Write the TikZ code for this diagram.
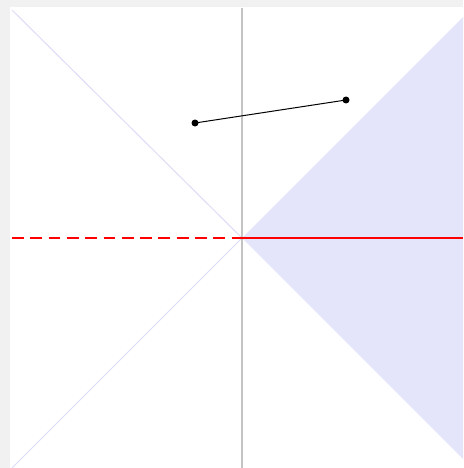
\documentclass[tikz,border=0pt]{standalone}
\definecolor{bgband}{HTML}{F1F1F1}
\definecolor{wedge}{HTML}{E4E4FA}
\definecolor{diag}{HTML}{DCDCF8}
\definecolor{axisgray}{HTML}{C4C4C4}
\tikzset{
  dot/.style={circle,fill=black,inner sep=0pt,minimum size=7pt},
  diagline/.style={draw=diag,line width=1pt},
  redline/.style={draw=red,line width=1.3pt},
}
\begin{document}
\begin{tikzpicture}[x=1pt,y=-1pt]
\useasboundingbox (0,0) rectangle (463,468);
\fill[bgband] (0,0) rectangle (463,468);
\fill[white] (10,7) rectangle (463,468);
\coordinate (O) at (242,238);
\coordinate (UR) at (463,17);
\coordinate (LR) at (463,459);
\coordinate (UL) at (12,10);
\coordinate (LL) at (12,468);
\coordinate (L) at (12,238);
\coordinate (R) at (463,238);
\coordinate (T) at (242,8);
\coordinate (B) at (242,468);
\fill[wedge] (O) -- (UR) -- (LR) -- cycle;
\draw[diagline] (UL) -- (O);
\draw[diagline] (LL) -- (O);
\draw[axisgray,line width=1.3pt] (T) -- (B);
\draw[redline,dash pattern=on 11.8pt off 6.5pt] (L) -- (O);
\draw[redline] (O) -- (R);
\node[dot] (p) at (195,123) {};
\node[dot] (q) at (346,100) {};
\draw[black,line width=1pt] (p.center) -- (q.center);
\end{tikzpicture}
\end{document}
